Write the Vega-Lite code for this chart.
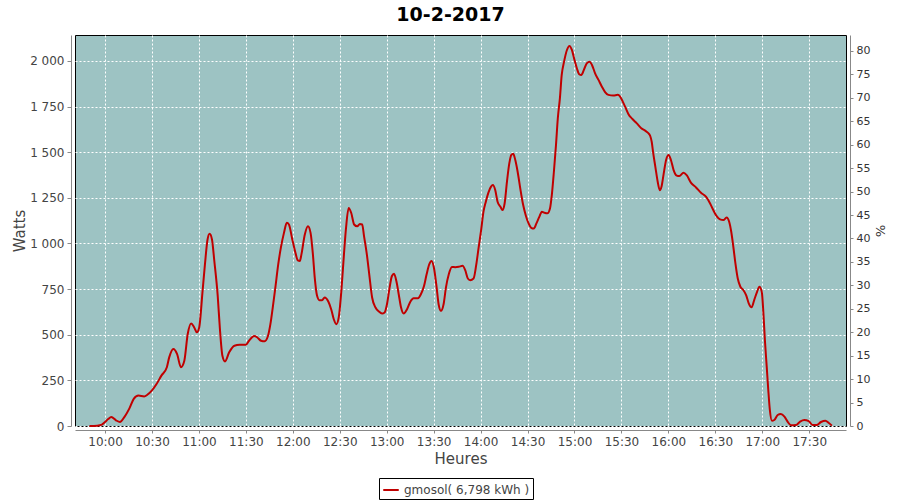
{
  "$schema": "https://vega.github.io/schema/vega-lite/v6.json",
  "autosize": "none",
  "width": 771,
  "height": 391,
  "padding": {"left": 75, "top": 35, "right": 54, "bottom": 74},
  "background": "white",
  "title": {"text": "10-2-2017", "fontSize": 19, "font": "DejaVu Sans", "fontWeight": "bold", "color": "black", "offset": 10, "dx": -10},
  "config": {
    "view": {"fill": "#9dc3c3", "stroke": "black", "strokeWidth": 1},
    "axis": {"labelFont": "DejaVu Sans", "titleFont": "DejaVu Sans", "domainColor": "#888", "tickColor": "#888", "labelColor": "#444", "titleColor": "#444", "titleFontWeight": "normal"}
  },
  "layer": [
    {
      "data": {"values": [
        {"t": "2017-02-10T09:50:00", "w": 0},
        {"t": "2017-02-10T09:55:00", "w": 2},
        {"t": "2017-02-10T09:58:00", "w": 8},
        {"t": "2017-02-10T10:00:00", "w": 22},
        {"t": "2017-02-10T10:02:00", "w": 38},
        {"t": "2017-02-10T10:04:00", "w": 49},
        {"t": "2017-02-10T10:07:00", "w": 31},
        {"t": "2017-02-10T10:09:30", "w": 22},
        {"t": "2017-02-10T10:12:20", "w": 49},
        {"t": "2017-02-10T10:15:30", "w": 95},
        {"t": "2017-02-10T10:18:20", "w": 149},
        {"t": "2017-02-10T10:21:20", "w": 167},
        {"t": "2017-02-10T10:25:00", "w": 162},
        {"t": "2017-02-10T10:27:00", "w": 171},
        {"t": "2017-02-10T10:30:00", "w": 195},
        {"t": "2017-02-10T10:33:00", "w": 231},
        {"t": "2017-02-10T10:36:00", "w": 276},
        {"t": "2017-02-10T10:39:30", "w": 322},
        {"t": "2017-02-10T10:41:00", "w": 376},
        {"t": "2017-02-10T10:43:40", "w": 422},
        {"t": "2017-02-10T10:46:00", "w": 395},
        {"t": "2017-02-10T10:48:30", "w": 322},
        {"t": "2017-02-10T10:50:40", "w": 358},
        {"t": "2017-02-10T10:52:50", "w": 504},
        {"t": "2017-02-10T10:55:00", "w": 562},
        {"t": "2017-02-10T10:57:00", "w": 540},
        {"t": "2017-02-10T10:58:40", "w": 513},
        {"t": "2017-02-10T11:00:10", "w": 540},
        {"t": "2017-02-10T11:02:20", "w": 740},
        {"t": "2017-02-10T11:03:50", "w": 885},
        {"t": "2017-02-10T11:05:30", "w": 1022},
        {"t": "2017-02-10T11:06:50", "w": 1053},
        {"t": "2017-02-10T11:08:20", "w": 1022},
        {"t": "2017-02-10T11:09:50", "w": 904},
        {"t": "2017-02-10T11:12:00", "w": 713},
        {"t": "2017-02-10T11:13:20", "w": 540},
        {"t": "2017-02-10T11:15:00", "w": 385},
        {"t": "2017-02-10T11:16:40", "w": 354},
        {"t": "2017-02-10T11:19:20", "w": 404},
        {"t": "2017-02-10T11:22:40", "w": 440},
        {"t": "2017-02-10T11:26:00", "w": 445},
        {"t": "2017-02-10T11:30:00", "w": 445},
        {"t": "2017-02-10T11:32:00", "w": 467},
        {"t": "2017-02-10T11:35:20", "w": 493},
        {"t": "2017-02-10T11:37:20", "w": 485},
        {"t": "2017-02-10T11:39:40", "w": 467},
        {"t": "2017-02-10T11:42:00", "w": 464},
        {"t": "2017-02-10T11:44:00", "w": 490},
        {"t": "2017-02-10T11:45:40", "w": 558},
        {"t": "2017-02-10T11:47:10", "w": 649},
        {"t": "2017-02-10T11:48:50", "w": 758},
        {"t": "2017-02-10T11:50:40", "w": 885},
        {"t": "2017-02-10T11:52:20", "w": 976},
        {"t": "2017-02-10T11:54:20", "w": 1058},
        {"t": "2017-02-10T11:56:10", "w": 1113},
        {"t": "2017-02-10T11:57:30", "w": 1104},
        {"t": "2017-02-10T11:59:40", "w": 1022},
        {"t": "2017-02-10T12:01:40", "w": 949},
        {"t": "2017-02-10T12:03:10", "w": 907},
        {"t": "2017-02-10T12:04:30", "w": 904},
        {"t": "2017-02-10T12:05:30", "w": 940},
        {"t": "2017-02-10T12:07:40", "w": 1049},
        {"t": "2017-02-10T12:09:40", "w": 1094},
        {"t": "2017-02-10T12:11:20", "w": 1058},
        {"t": "2017-02-10T12:12:50", "w": 940},
        {"t": "2017-02-10T12:14:00", "w": 813},
        {"t": "2017-02-10T12:15:30", "w": 713},
        {"t": "2017-02-10T12:17:00", "w": 689},
        {"t": "2017-02-10T12:18:40", "w": 689},
        {"t": "2017-02-10T12:20:20", "w": 704},
        {"t": "2017-02-10T12:22:40", "w": 682},
        {"t": "2017-02-10T12:24:30", "w": 640},
        {"t": "2017-02-10T12:26:10", "w": 585},
        {"t": "2017-02-10T12:27:50", "w": 558},
        {"t": "2017-02-10T12:29:20", "w": 595},
        {"t": "2017-02-10T12:31:10", "w": 758},
        {"t": "2017-02-10T12:32:40", "w": 940},
        {"t": "2017-02-10T12:34:00", "w": 1085},
        {"t": "2017-02-10T12:35:40", "w": 1194},
        {"t": "2017-02-10T12:37:20", "w": 1167},
        {"t": "2017-02-10T12:39:10", "w": 1104},
        {"t": "2017-02-10T12:41:10", "w": 1094},
        {"t": "2017-02-10T12:42:50", "w": 1107},
        {"t": "2017-02-10T12:44:20", "w": 1104},
        {"t": "2017-02-10T12:45:30", "w": 1040},
        {"t": "2017-02-10T12:47:10", "w": 949},
        {"t": "2017-02-10T12:48:50", "w": 831},
        {"t": "2017-02-10T12:50:40", "w": 704},
        {"t": "2017-02-10T12:52:50", "w": 649},
        {"t": "2017-02-10T12:55:00", "w": 627},
        {"t": "2017-02-10T12:57:00", "w": 616},
        {"t": "2017-02-10T12:58:40", "w": 622},
        {"t": "2017-02-10T13:00:10", "w": 667},
        {"t": "2017-02-10T13:01:50", "w": 758},
        {"t": "2017-02-10T13:03:20", "w": 822},
        {"t": "2017-02-10T13:04:40", "w": 834},
        {"t": "2017-02-10T13:06:10", "w": 794},
        {"t": "2017-02-10T13:07:40", "w": 722},
        {"t": "2017-02-10T13:09:10", "w": 649},
        {"t": "2017-02-10T13:10:50", "w": 616},
        {"t": "2017-02-10T13:13:00", "w": 640},
        {"t": "2017-02-10T13:15:10", "w": 682},
        {"t": "2017-02-10T13:17:10", "w": 700},
        {"t": "2017-02-10T13:20:00", "w": 700},
        {"t": "2017-02-10T13:21:50", "w": 722},
        {"t": "2017-02-10T13:23:50", "w": 767},
        {"t": "2017-02-10T13:25:30", "w": 831},
        {"t": "2017-02-10T13:27:10", "w": 885},
        {"t": "2017-02-10T13:28:40", "w": 904},
        {"t": "2017-02-10T13:30:10", "w": 867},
        {"t": "2017-02-10T13:31:40", "w": 776},
        {"t": "2017-02-10T13:33:10", "w": 667},
        {"t": "2017-02-10T13:34:40", "w": 631},
        {"t": "2017-02-10T13:36:20", "w": 667},
        {"t": "2017-02-10T13:37:50", "w": 758},
        {"t": "2017-02-10T13:39:40", "w": 831},
        {"t": "2017-02-10T13:41:40", "w": 871},
        {"t": "2017-02-10T13:43:50", "w": 870},
        {"t": "2017-02-10T13:46:00", "w": 872},
        {"t": "2017-02-10T13:48:30", "w": 878},
        {"t": "2017-02-10T13:50:10", "w": 854},
        {"t": "2017-02-10T13:51:50", "w": 808},
        {"t": "2017-02-10T13:53:20", "w": 799},
        {"t": "2017-02-10T13:55:30", "w": 808},
        {"t": "2017-02-10T13:57:10", "w": 881},
        {"t": "2017-02-10T13:58:40", "w": 973},
        {"t": "2017-02-10T14:00:20", "w": 1073},
        {"t": "2017-02-10T14:01:50", "w": 1174},
        {"t": "2017-02-10T14:03:20", "w": 1229},
        {"t": "2017-02-10T14:05:10", "w": 1283},
        {"t": "2017-02-10T14:06:40", "w": 1311},
        {"t": "2017-02-10T14:07:50", "w": 1320},
        {"t": "2017-02-10T14:09:20", "w": 1293},
        {"t": "2017-02-10T14:10:50", "w": 1229},
        {"t": "2017-02-10T14:12:40", "w": 1201},
        {"t": "2017-02-10T14:14:00", "w": 1183},
        {"t": "2017-02-10T14:15:20", "w": 1219},
        {"t": "2017-02-10T14:16:50", "w": 1338},
        {"t": "2017-02-10T14:18:20", "w": 1439},
        {"t": "2017-02-10T14:19:40", "w": 1485},
        {"t": "2017-02-10T14:20:50", "w": 1492},
        {"t": "2017-02-10T14:22:10", "w": 1457},
        {"t": "2017-02-10T14:23:40", "w": 1393},
        {"t": "2017-02-10T14:25:20", "w": 1302},
        {"t": "2017-02-10T14:27:00", "w": 1219},
        {"t": "2017-02-10T14:28:50", "w": 1155},
        {"t": "2017-02-10T14:30:40", "w": 1110},
        {"t": "2017-02-10T14:32:20", "w": 1086},
        {"t": "2017-02-10T14:34:00", "w": 1082},
        {"t": "2017-02-10T14:35:40", "w": 1110},
        {"t": "2017-02-10T14:37:30", "w": 1146},
        {"t": "2017-02-10T14:39:10", "w": 1174},
        {"t": "2017-02-10T14:40:50", "w": 1168},
        {"t": "2017-02-10T14:42:40", "w": 1165},
        {"t": "2017-02-10T14:44:20", "w": 1192},
        {"t": "2017-02-10T14:45:30", "w": 1265},
        {"t": "2017-02-10T14:46:50", "w": 1393},
        {"t": "2017-02-10T14:48:10", "w": 1539},
        {"t": "2017-02-10T14:49:20", "w": 1685},
        {"t": "2017-02-10T14:50:40", "w": 1795},
        {"t": "2017-02-10T14:51:50", "w": 1923},
        {"t": "2017-02-10T14:53:20", "w": 1996},
        {"t": "2017-02-10T14:55:10", "w": 2060},
        {"t": "2017-02-10T14:56:50", "w": 2082},
        {"t": "2017-02-10T14:58:20", "w": 2060},
        {"t": "2017-02-10T15:00:00", "w": 2005},
        {"t": "2017-02-10T15:01:30", "w": 1960},
        {"t": "2017-02-10T15:03:00", "w": 1927},
        {"t": "2017-02-10T15:04:20", "w": 1923},
        {"t": "2017-02-10T15:06:00", "w": 1951},
        {"t": "2017-02-10T15:07:50", "w": 1987},
        {"t": "2017-02-10T15:09:40", "w": 1996},
        {"t": "2017-02-10T15:11:10", "w": 1978},
        {"t": "2017-02-10T15:13:10", "w": 1932},
        {"t": "2017-02-10T15:15:20", "w": 1896},
        {"t": "2017-02-10T15:17:30", "w": 1859},
        {"t": "2017-02-10T15:19:40", "w": 1828},
        {"t": "2017-02-10T15:21:40", "w": 1814},
        {"t": "2017-02-10T15:24:50", "w": 1810},
        {"t": "2017-02-10T15:27:40", "w": 1814},
        {"t": "2017-02-10T15:29:10", "w": 1804},
        {"t": "2017-02-10T15:30:50", "w": 1777},
        {"t": "2017-02-10T15:32:50", "w": 1740},
        {"t": "2017-02-10T15:34:30", "w": 1708},
        {"t": "2017-02-10T15:37:00", "w": 1682},
        {"t": "2017-02-10T15:39:50", "w": 1658},
        {"t": "2017-02-10T15:42:40", "w": 1631},
        {"t": "2017-02-10T15:45:10", "w": 1618},
        {"t": "2017-02-10T15:46:50", "w": 1607},
        {"t": "2017-02-10T15:48:20", "w": 1590},
        {"t": "2017-02-10T15:49:20", "w": 1557},
        {"t": "2017-02-10T15:50:20", "w": 1493},
        {"t": "2017-02-10T15:51:40", "w": 1420},
        {"t": "2017-02-10T15:53:10", "w": 1338},
        {"t": "2017-02-10T15:54:30", "w": 1292},
        {"t": "2017-02-10T15:55:40", "w": 1314},
        {"t": "2017-02-10T15:57:00", "w": 1383},
        {"t": "2017-02-10T15:58:30", "w": 1456},
        {"t": "2017-02-10T16:00:10", "w": 1484},
        {"t": "2017-02-10T16:01:40", "w": 1456},
        {"t": "2017-02-10T16:03:20", "w": 1402},
        {"t": "2017-02-10T16:05:20", "w": 1372},
        {"t": "2017-02-10T16:07:00", "w": 1369},
        {"t": "2017-02-10T16:09:40", "w": 1387},
        {"t": "2017-02-10T16:11:40", "w": 1374},
        {"t": "2017-02-10T16:14:30", "w": 1332},
        {"t": "2017-02-10T16:17:40", "w": 1307},
        {"t": "2017-02-10T16:20:50", "w": 1278},
        {"t": "2017-02-10T16:24:00", "w": 1256},
        {"t": "2017-02-10T16:26:40", "w": 1219},
        {"t": "2017-02-10T16:28:40", "w": 1183},
        {"t": "2017-02-10T16:30:50", "w": 1150},
        {"t": "2017-02-10T16:33:00", "w": 1132},
        {"t": "2017-02-10T16:35:10", "w": 1128},
        {"t": "2017-02-10T16:37:10", "w": 1142},
        {"t": "2017-02-10T16:38:50", "w": 1119},
        {"t": "2017-02-10T16:40:10", "w": 1064},
        {"t": "2017-02-10T16:41:30", "w": 982},
        {"t": "2017-02-10T16:42:50", "w": 891},
        {"t": "2017-02-10T16:44:20", "w": 808},
        {"t": "2017-02-10T16:46:00", "w": 763},
        {"t": "2017-02-10T16:47:50", "w": 745},
        {"t": "2017-02-10T16:49:40", "w": 717},
        {"t": "2017-02-10T16:51:20", "w": 672},
        {"t": "2017-02-10T16:53:10", "w": 650},
        {"t": "2017-02-10T16:54:50", "w": 690},
        {"t": "2017-02-10T16:56:40", "w": 735},
        {"t": "2017-02-10T16:58:10", "w": 763},
        {"t": "2017-02-10T16:59:40", "w": 735},
        {"t": "2017-02-10T17:00:40", "w": 626},
        {"t": "2017-02-10T17:01:40", "w": 471},
        {"t": "2017-02-10T17:02:50", "w": 325},
        {"t": "2017-02-10T17:03:50", "w": 197},
        {"t": "2017-02-10T17:04:50", "w": 88},
        {"t": "2017-02-10T17:06:10", "w": 29},
        {"t": "2017-02-10T17:07:40", "w": 33},
        {"t": "2017-02-10T17:09:50", "w": 60},
        {"t": "2017-02-10T17:11:50", "w": 66},
        {"t": "2017-02-10T17:14:10", "w": 51},
        {"t": "2017-02-10T17:16:10", "w": 24},
        {"t": "2017-02-10T17:18:20", "w": 4},
        {"t": "2017-02-10T17:21:30", "w": 5},
        {"t": "2017-02-10T17:24:10", "w": 24},
        {"t": "2017-02-10T17:26:50", "w": 33},
        {"t": "2017-02-10T17:29:40", "w": 27},
        {"t": "2017-02-10T17:32:10", "w": 5},
        {"t": "2017-02-10T17:34:40", "w": 5},
        {"t": "2017-02-10T17:37:30", "w": 22},
        {"t": "2017-02-10T17:40:20", "w": 29},
        {"t": "2017-02-10T17:42:20", "w": 18},
        {"t": "2017-02-10T17:44:30", "w": 2}
      ]},
      "mark": {"type": "line", "strokeWidth": 2, "interpolate": "monotone"},
      "encoding": {
        "x": {
          "field": "t", "type": "temporal",
          "scale": {"domain": [
            {"year": 2017, "month": 2, "date": 10, "hours": 9, "minutes": 40, "seconds": 48},
            {"year": 2017, "month": 2, "date": 10, "hours": 17, "minutes": 53, "seconds": 30}
          ]},
          "axis": {
            "title": "Heures", "titleFontSize": 15, "titlePadding": 4,
            "format": "%H:%M",
            "values": [
              {"year": 2017, "month": 2, "date": 10, "hours": 10, "minutes": 0},
              {"year": 2017, "month": 2, "date": 10, "hours": 10, "minutes": 30},
              {"year": 2017, "month": 2, "date": 10, "hours": 11, "minutes": 0},
              {"year": 2017, "month": 2, "date": 10, "hours": 11, "minutes": 30},
              {"year": 2017, "month": 2, "date": 10, "hours": 12, "minutes": 0},
              {"year": 2017, "month": 2, "date": 10, "hours": 12, "minutes": 30},
              {"year": 2017, "month": 2, "date": 10, "hours": 13, "minutes": 0},
              {"year": 2017, "month": 2, "date": 10, "hours": 13, "minutes": 30},
              {"year": 2017, "month": 2, "date": 10, "hours": 14, "minutes": 0},
              {"year": 2017, "month": 2, "date": 10, "hours": 14, "minutes": 30},
              {"year": 2017, "month": 2, "date": 10, "hours": 15, "minutes": 0},
              {"year": 2017, "month": 2, "date": 10, "hours": 15, "minutes": 30},
              {"year": 2017, "month": 2, "date": 10, "hours": 16, "minutes": 0},
              {"year": 2017, "month": 2, "date": 10, "hours": 16, "minutes": 30},
              {"year": 2017, "month": 2, "date": 10, "hours": 17, "minutes": 0},
              {"year": 2017, "month": 2, "date": 10, "hours": 17, "minutes": 30}
            ],
            "offset": 4, "tickSize": 3, "labelPadding": 3, "labelFontSize": 12,
            "grid": true, "gridColor": "white", "gridDash": [2, 2], "gridOpacity": 1, "gridWidth": 1
          }
        },
        "y": {
          "field": "w", "type": "quantitative",
          "scale": {"domain": [0, 2142], "nice": false},
          "axis": {
            "title": "Watts", "titleFontSize": 15, "titlePadding": 2,
            "values": [0, 250, 500, 750, 1000, 1250, 1500, 1750, 2000],
            "labelExpr": "replace(format(datum.value, ','), ',', ' ')",
            "offset": 4, "tickSize": 4, "labelPadding": 3, "labelFontSize": 12,
            "grid": true, "gridColor": "white", "gridDash": [2, 2], "gridOpacity": 1, "gridWidth": 1
          }
        },
        "color": {
          "datum": "gmosol( 6,798 kWh )",
          "scale": {"range": ["#c00000"]},
          "legend": {
            "title": null, "orient": "none", "legendX": 304, "legendY": 443,
            "strokeColor": "black", "fillColor": "white", "padding": 3,
            "symbolType": "stroke", "symbolStrokeWidth": 2, "symbolSize": 240,
            "labelFontSize": 12, "labelColor": "#444", "labelFont": "DejaVu Sans"
          }
        }
      }
    },
    {
      "data": {"values": [{"p": 0}, {"p": 80}]},
      "mark": {"type": "rule", "opacity": 0},
      "encoding": {
        "y": {
          "field": "p", "type": "quantitative",
          "scale": {"domain": [0, 83.4], "nice": false},
          "axis": {
            "orient": "right", "title": "%", "titleFontSize": 13, "titlePadding": 3, "titleColor": "#333",
            "values": [0, 5, 10, 15, 20, 25, 30, 35, 40, 45, 50, 55, 60, 65, 70, 75, 80],
            "offset": 4, "tickSize": 3, "labelPadding": 3, "labelFontSize": 11, "labelColor": "#333",
            "grid": false
          }
        }
      }
    }
  ],
  "resolve": {"scale": {"y": "independent"}}
}
